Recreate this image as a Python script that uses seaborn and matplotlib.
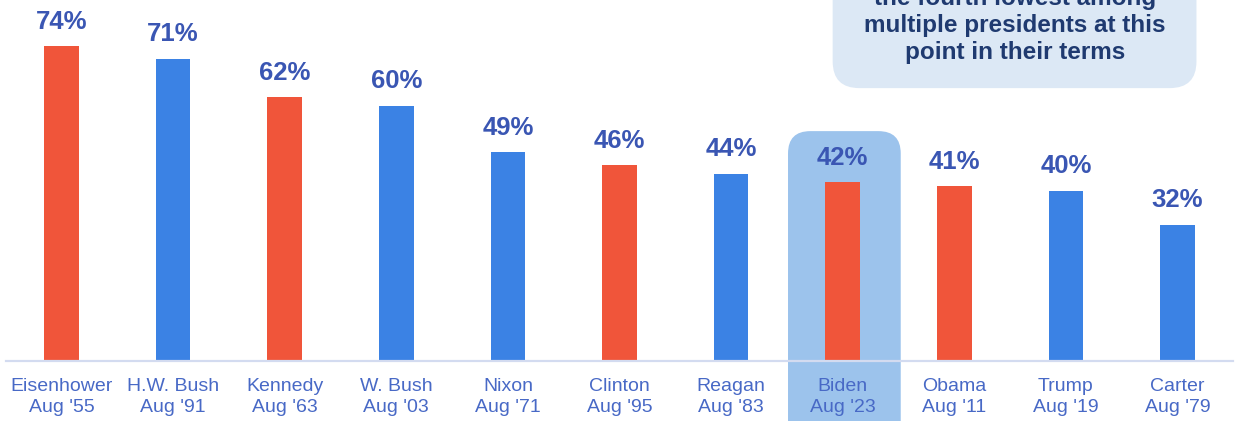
import pandas as pd
import seaborn as sns
import matplotlib.pyplot as plt
from matplotlib.patches import FancyBboxPatch

presidents = ['Eisenhower', 'H.W. Bush', 'Kennedy', 'W. Bush', 'Nixon', 'Clinton',
              'Reagan', 'Biden', 'Obama', 'Trump', 'Carter']
dates = ["Aug '55", "Aug '91", "Aug '63", "Aug '03", "Aug '71", "Aug '95",
         "Aug '83", "Aug '23", "Aug '11", "Aug '19", "Aug '79"]
approval = [74, 71, 62, 60, 49, 46, 44, 42, 41, 40, 32]
bar_color = ['red', 'blue', 'red', 'blue', 'blue', 'red', 'blue', 'red', 'red', 'blue', 'blue']
note_lines = ['the fourth lowest among', 'multiple presidents at this', 'point in their terms']

RED = '#F0553A'
BLUE = '#3B82E4'

df = pd.DataFrame({'label': [f'{p}\n{d}' for p, d in zip(presidents, dates)],
                   'approval': approval,
                   'color': bar_color})

sns.set_theme(style='white')
plt.rcParams['font.family'] = ['Liberation Sans', 'DejaVu Sans']

fig = plt.figure(figsize=(12.38, 4.21), dpi=100)
ax = fig.add_axes([5.7 / 1238, 60 / 421, 1227.6 / 1238, 361 / 421])

sns.barplot(data=df, x='label', y='approval', hue='color',
            palette={'red': RED, 'blue': BLUE}, width=0.31, dodge=False,
            legend=False, saturation=1, linewidth=0, edgecolor='none',
            ax=ax, zorder=2)

ax.set_xlim(-0.5, len(presidents) - 0.5)
ax.set_ylim(0, 84.8)

# aspect between x and y data units, so rounded corners look round
px_x = 1227.6 / len(presidents)
px_y = 361 / 84.8
aspect = px_x / px_y

# highlight behind Biden
bi = presidents.index('Biden')
hl = FancyBboxPatch((bi - 0.49, -20), 1.01, 20 + 54.0,
                    boxstyle='round,pad=0,rounding_size=0.2',
                    mutation_aspect=aspect, facecolor='#9CC3EC',
                    edgecolor='none', zorder=0.5, clip_on=False)
ax.add_patch(hl)

# note box at top right (its first line runs off the top, as in the source)
nb = FancyBboxPatch((6.91, 64.1), 3.26, 40,
                    boxstyle='round,pad=0,rounding_size=0.24',
                    mutation_aspect=aspect, facecolor='#DCE8F5',
                    edgecolor='none', zorder=0.5, clip_on=False)
ax.add_patch(nb)
fig.text(1015 / 1238, 1 - 21 / 421, '\n'.join(note_lines), ha='center',
         va='center_baseline', fontsize=17.5, fontweight='bold',
         color='#1F3A70', linespacing=1.24)

for i, v in enumerate(approval):
    ax.annotate(f'{v}%', (i, v), xytext=(0, 12.5), textcoords='offset points',
                ha='center', va='baseline', fontsize=18.5, fontweight='bold',
                color='#3A56B3')

sns.despine(ax=ax, left=True)
ax.spines['bottom'].set_color('#D3DBF0')
ax.spines['bottom'].set_linewidth(1.6)
ax.spines['bottom'].set_zorder(3)
ax.set_yticks([])
ax.set_xlabel('')
ax.set_ylabel('')
ax.tick_params(axis='x', length=0, pad=12, labelsize=14, labelcolor='#4869C6')
for lbl in ax.get_xticklabels():
    lbl.set_linespacing(1.3)
ax.patch.set_alpha(0)

fig.savefig('out.png', dpi=100)
